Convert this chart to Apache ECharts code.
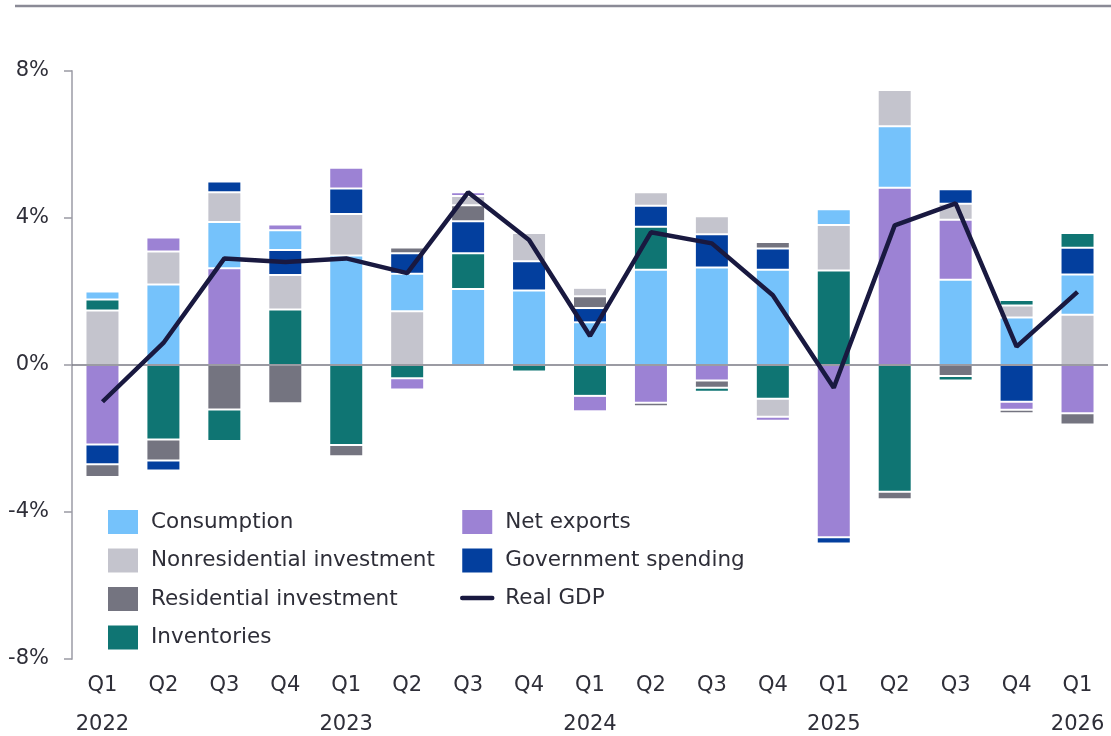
<!DOCTYPE html>
<html>
<head>
<meta charset="utf-8">
<script src="https://cdn.jsdelivr.net/npm/echarts@6/dist/echarts.min.js"></script>
<style>html,body{margin:0;padding:0;background:#fff}#c{width:1111px;height:736px}</style>
</head>
<body>
<div id="c"></div>
<script>
const categories = ['Q1','Q2','Q3','Q4','Q1','Q2','Q3','Q4','Q1','Q2','Q3','Q4','Q1','Q2','Q3','Q4','Q1'];
const years = ['2022','','','','2023','','','','2024','','','','2025','','','','2026'];
const yTicks = [-8, -4, 0, 4, 8];

const consumption = [0.22, 2.19, 1.26, 0.54, 2.98, 1.02, 2.07, 2.03, 1.16, 2.59, 2.65, 2.59, 0.43, 1.68, 2.32, 1.29, 1.09];
const nonresidential = [1.48, 0.90, 0.81, 0.94, 1.13, 1.46, 0.25, 0.77, 0.23, 0.37, 0.49, -0.49, 1.24, 0.98, 0.44, 0.33, 1.37];
const residential = [-0.35, -0.57, -1.21, -1.04, -0.30, 0.16, 0.44, 0, 0.32, -0.09, -0.20, 0.18, 0, -0.20, -0.30, -0.09, -0.31];
const inventories = [0.30, -2.03, -0.86, 1.51, -2.18, -0.36, 0.97, -0.18, -0.84, 1.17, -0.11, -0.92, 2.57, -3.45, -0.12, 0.15, 0.40];
const netExports = [-2.16, 0.38, 2.63, 0.15, 0.57, -0.31, 0.10, 0, -0.42, -1.03, -0.42, -0.11, -4.69, 4.82, 1.63, -0.22, -1.31];
const government = [-0.54, -0.27, 0.29, 0.68, 0.69, 0.56, 0.87, 0.79, 0.39, 0.57, 0.91, 0.58, -0.17, 0, 0.39, -1.00, 0.73];
const realGDP = [-1.0, 0.6, 2.9, 2.8, 2.9, 2.5, 4.7, 3.4, 0.79, 3.61, 3.31, 1.9, -0.62, 3.8, 4.4, 0.5, 1.99];

const components = [
  {name: 'Consumption', data: consumption, color: '#75c2fb'},
  {name: 'Nonresidential investment', data: nonresidential, color: '#c4c4cd'},
  {name: 'Residential investment', data: residential, color: '#747480'},
  {name: 'Inventories', data: inventories, color: '#0f7573'},
  {name: 'Net exports', data: netExports, color: '#9c82d4'},
  {name: 'Government spending', data: government, color: '#033f9e'}
];

const TEXT = '#2e2e38';
const FONT = 'DejaVu Sans';

function makeRender(sIdx) {
  return function (params, api) {
    const i = api.value(0);
    const v = api.value(1);
    if (!v) return null;
    let base = 0;
    components.forEach(function (c, k) {
      const w = c.data[i];
      if (k === sIdx || !w) return;
      if ((w > 0) !== (v > 0)) return;
      if (Math.abs(w) > Math.abs(v) || (Math.abs(w) === Math.abs(v) && k < sIdx)) base += w;
    });
    const p0 = api.coord([i, base]);
    const p1 = api.coord([i, base + v]);
    const bw = api.size([1, 0])[0] * 0.525;
    let top = Math.min(p0[1], p1[1]) + 1;
    let h = Math.abs(p1[1] - p0[1]) - 2;
    if (h < 1.2) { h = 1.2; }
    return {
      type: 'rect',
      shape: {x: p0[0] - bw / 2, y: top, width: bw, height: h},
      style: {fill: api.visual('color')}
    };
  };
}

const series = components.map(function (c, k) {
  return {
    name: c.name,
    type: 'custom',
    renderItem: makeRender(k),
    itemStyle: {color: c.color},
    encode: {x: 0, y: 1},
    data: c.data.map(function (v, i) { return [i, v]; }),
    z: 2
  };
});
series.push({
  name: 'Real GDP',
  type: 'line',
  data: realGDP,
  symbol: 'none',
  color: '#191940',
  lineStyle: {width: 4.5, color: '#191940'},
  z: 10,
  markLine: {
    silent: true,
    symbol: ['none', 'none'],
    label: {show: false},
    lineStyle: {color: '#7a7a84', width: 1.5, type: 'solid'},
    data: [{yAxis: 0}],
    z: 1
  }
});

const chart = echarts.init(document.getElementById('c'), null, {renderer: 'canvas'});
chart.setOption({
  animation: false,
  backgroundColor: '#fff',
  textStyle: {fontFamily: FONT},
  grid: {left: 72, right: 3, top: 71, bottom: 77, containLabel: false, outerBoundsMode: 'none'},
  graphic: [{
    type: 'line',
    shape: {x1: 15, y1: 6, x2: 1111, y2: 6},
    style: {stroke: '#8a8a96', lineWidth: 2.5}
  }],
  legend: [{
    orient: 'vertical',
    left: 103, top: 505,
    itemWidth: 30, itemHeight: 24, itemGap: 14.5,
    icon: 'rect',
    textStyle: {fontSize: 21.5, color: TEXT, fontFamily: FONT, padding: [0, 0, 0, 8]},
    data: ['Consumption', 'Nonresidential investment', 'Residential investment', 'Inventories']
  }, {
    orient: 'vertical',
    left: 455, top: 505,
    itemWidth: 30, itemHeight: 24, itemGap: 14.5,
    textStyle: {fontSize: 21.5, color: TEXT, fontFamily: FONT, padding: [0, 0, 0, 8]},
    data: [
      {name: 'Net exports', icon: 'rect'},
      {name: 'Government spending', icon: 'rect'},
      {name: 'Real GDP', itemStyle: {opacity: 0}, lineStyle: {width: 4.5, cap: 'round'}}
    ]
  }],
  xAxis: {
    type: 'category',
    data: categories,
    boundaryGap: true,
    axisLine: {show: false},
    axisTick: {show: false},
    axisLabel: {
      interval: 0,
      fontSize: 21,
      color: TEXT,
      fontFamily: FONT,
      lineHeight: 39,
      margin: 7,
      formatter: function (val, idx) { return years[idx] ? val + '\n' + years[idx] : val; }
    }
  },
  yAxis: {
    type: 'value',
    min: yTicks[0], max: yTicks[yTicks.length - 1], interval: 4,
    axisLine: {show: true, lineStyle: {color: '#b4b4bc', width: 2}},
    axisTick: {show: true, length: 8, lineStyle: {color: '#9a9aa4', width: 1.5}},
    splitLine: {show: false},
    axisLabel: {
      fontSize: 21, color: TEXT, fontFamily: FONT, margin: 23,
      formatter: function (v) { return v + '%'; }
    }
  },
  series: series
});
</script>
</body>
</html>
